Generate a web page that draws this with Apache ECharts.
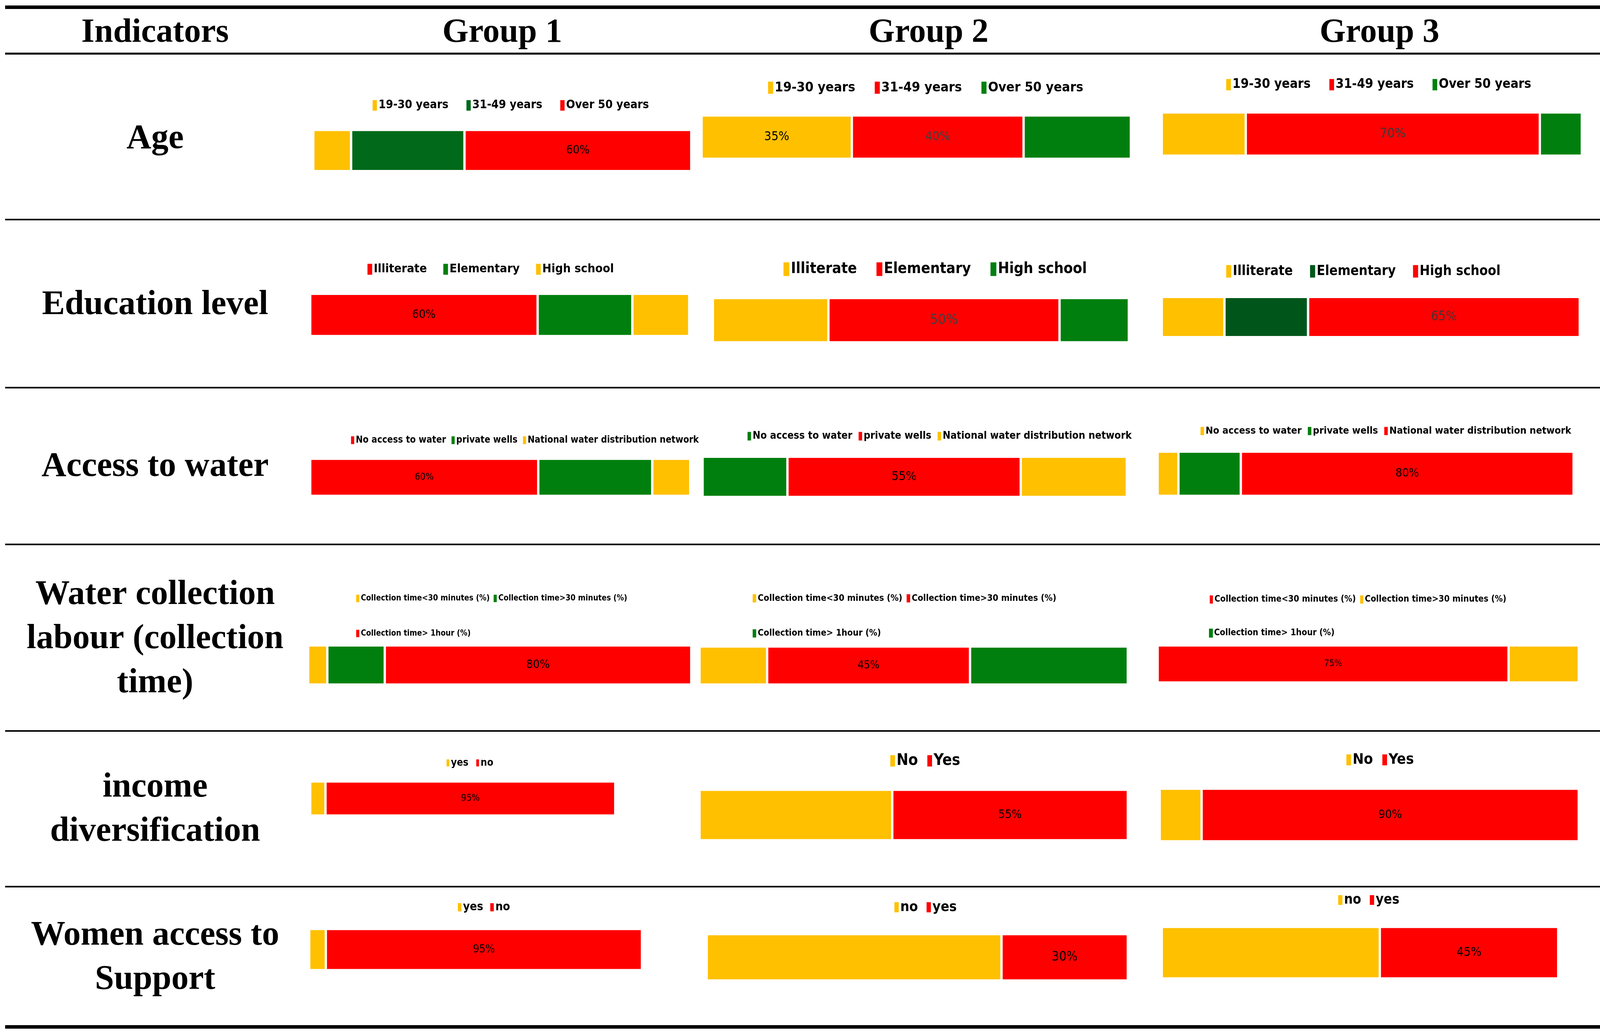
<!DOCTYPE html>
<html><head><meta charset="utf-8">
<script src="https://cdn.jsdelivr.net/npm/echarts@6/dist/echarts.min.js"></script>
<style>html,body{margin:0;padding:0;background:#fff}#c{width:4110px;height:2639px}</style>
</head><body><div id="c"></div>
<script>
// ---------------- DATA ----------------
const groups = ['Group 1', 'Group 2', 'Group 3'];
const headerFirst = 'Indicators';
const indicators = ['Age', 'Education level', 'Access to water',
  'Water collection\nlabour (collection\ntime)', 'income\ndiversification', 'Women access to\nSupport'];

const ageNames = ['19-30 years', '31-49 years', 'Over 50 years'];
const ageValues = [[10, 30, 60], [35, 40, 25], [20, 70, 10]];

const eduNames = ['Illiterate', 'Elementary', 'High school'];
const eduValues = [[60, 25, 15], [25, 50, 15], [15, 20, 65]];

const waterNames = ['No access to water', 'private wells', 'National water distribution network'];
const waterValues = [[60, 30, 10], [20, 55, 25], [5, 15, 80]];

const timeNames = ['Collection time<30 minutes (%)', 'Collection time>30 minutes (%)', 'Collection time> 1hour (%)'];
const timeValues = [[5, 15, 80], [15, 45, 35], [75, 15, 0]];

const incomeNames = [['yes', 'no'], ['No', 'Yes'], ['No', 'Yes']];
const incomeValues = [[5, 95], [45, 55], [10, 90]];

const supportNames = [['yes', 'no'], ['no', 'yes'], ['no', 'yes']];
const supportValues = [[5, 95], [70, 30], [55, 45]];

// segments that carry a percentage label (index into each cell)
const ageLabeled = [[2], [0, 1], [1]];
const eduLabeled = [[0], [1], [2]];
const waterLabeled = [[0], [1], [2]];
const timeLabeled = [[2], [1], [0]];
const incomeLabeled = [[1], [1], [1]];
const supportLabeled = [[1], [1], [1]];

// ---------------- STYLE ----------------
const Y = '#FFC000', R = '#FF0000', G = '#007F0E', DG = '#006A1A', DDG = '#00561A';
const ageColors = [[Y, DG, R], [Y, R, G], [Y, R, G]];
const eduColors = [[R, G, Y], [Y, R, G], [Y, DDG, R]];
const waterColors = [[R, G, Y], [G, R, Y], [Y, G, R]];
const timeColors = [[Y, G, R], [Y, R, G], [R, Y, G]];
const incomeColors = [[Y, R], [Y, R], [Y, R]];
const supportColors = [[Y, R], [Y, R], [Y, R]];

const NARROW = "'Liberation Sans Narrow', 'Arial Narrow', 'DejaVu Sans Condensed', sans-serif";
const SERIF = "'Liberation Serif', 'DejaVu Serif', serif";
const SX = 4110 / 1563, SY = 2639 / 1000;

// bar boxes in reference display units [x0, x1, y0, y1]
const barBox = [
  [[305, 673, 126, 166], [683, 1101, 112, 154], [1131, 1540, 109, 151]],
  [[302, 671, 285, 326], [694, 1099, 289, 332], [1131, 1538, 288, 327]],
  [[302, 672, 445, 481], [684, 1097, 443, 482], [1127, 1532, 438, 481]],
  [[300, 673, 626, 664], [681, 1098, 627, 664], [1127, 1537, 626, 662]],
  [[302, 599, 758, 791], [681, 1098, 766, 815], [1129, 1537, 765, 816]],
  [[301, 625, 901, 941], [688, 1098, 906, 951], [1131, 1517, 899, 949]]
];
// legends: [left (display), centerY (display), fontSize (px), itemGap (px), iconSize ref (px), second line centerY]
const legendAt = [
  [[362, 102, 30, 44, 37], [747, 85, 34.5, 48, 42], [1193, 82, 33.5, 46, 40]],
  [[357, 261, 31, 40, 38], [762, 261, 38.5, 48, 47], [1193, 263, 35, 42, 43]],
  [[341, 427, 24, 12, 28], [727, 423, 26.5, 14, 31], [1168, 418, 25.5, 14, 30]],
  [[346, 580, 20.5, 8, 26.5, 614], [732, 580, 23, 9, 29.5, 614], [1177, 581, 22.5, 9, 29, 614]],
  [[434, 740, 26, 18, 26], [866, 738, 40, 22, 40], [1310, 737, 38, 22, 38]],
  [[445, 880, 30, 16, 30], [870, 880, 36, 20, 36], [1302, 873, 35, 20, 35]]
];
const labelFont = [
  [30, 32, 33], [30, 36, 33], [24, 32, 30], [30, 28, 23], [24, 30, 30], [28, 33, 32]
];
const labelColor = [
  [['#000'], ['#000', '#404040'], ['#3a3a3a']],
  [['#000'], ['#404040'], ['#4a3030']],
  [['#000'], ['#000'], ['#000']],
  [['#000'], ['#000'], ['#000']],
  [['#000'], ['#000'], ['#000']],
  [['#000'], ['#000'], ['#000']]
];

// ---------------- BUILD ----------------
const rowsData = [
  {names: [ageNames, ageNames, ageNames], values: ageValues, colors: ageColors, labeled: ageLabeled},
  {names: [eduNames, eduNames, eduNames], values: eduValues, colors: eduColors, labeled: eduLabeled},
  {names: [waterNames, waterNames, waterNames], values: waterValues, colors: waterColors, labeled: waterLabeled},
  {names: [timeNames, timeNames, timeNames], values: timeValues, colors: timeColors, labeled: timeLabeled, split: 2},
  {names: incomeNames, values: incomeValues, colors: incomeColors, labeled: incomeLabeled},
  {names: supportNames, values: supportValues, colors: supportColors, labeled: supportLabeled}
];

const option = {animation: false, backgroundColor: '#fff', grid: [], xAxis: [], yAxis: [], series: [], legend: [], graphic: []};

rowsData.forEach((row, r) => {
  for (let g = 0; g < 3; g++) {
    const k = r * 3 + g;
    const names = row.names[g], vals = row.values[g], cols = row.colors[g];
    const total = vals.reduce((a, b) => a + b, 0);
    const [x0, x1, y0, y1] = barBox[r][g];
    option.grid.push({left: x0 * SX, top: y0 * SY, width: (x1 - x0) * SX, height: (y1 - y0) * SY, containLabel: false});
    option.xAxis.push({gridIndex: k, type: 'value', min: 0, max: total, show: false});
    option.yAxis.push({gridIndex: k, type: 'category', data: ['c' + k], show: false});
    const sNames = [];
    names.forEach((n, i) => {
      const li = row.labeled[g].indexOf(i);
      const sName = k + '|' + n;
      sNames.push(sName);
      option.series.push({
        type: 'bar', name: sName, xAxisIndex: k, yAxisIndex: k, stack: 's' + k,
        barWidth: '100%', data: [vals[i]],
        itemStyle: {color: cols[i], borderColor: '#fff', borderWidth: vals[i] ? 3 : 0},
        emphasis: {disabled: true},
        label: {
          show: li >= 0, position: 'inside', formatter: '{c}%',
          fontFamily: NARROW, fontSize: labelFont[r][g],
          color: li >= 0 ? labelColor[r][g][li] : '#000'
        }
      });
    });
    const [lx, lcy, lf, lgap, isz, lcy2] = legendAt[r][g];
    const mk = (data, cy) => ({
      left: lx * SX, top: cy * SY - Math.max(lf, isz * 0.78) / 2, width: 2400, padding: 0, itemGap: lgap,
      itemWidth: Math.round(isz * 0.36), itemHeight: Math.round(isz * 0.78), icon: 'rect',
      selectedMode: false, data: data,
      formatter: s => s.split('|')[1],
      textStyle: {fontFamily: NARROW, fontWeight: 'bold', fontSize: lf, lineHeight: lf, color: '#000', padding: [0, 0, 0, -2]}
    });
    if (row.split) {
      option.legend.push(mk(sNames.slice(0, row.split), lcy));
      option.legend.push(mk(sNames.slice(row.split), lcy2));
    } else {
      option.legend.push(mk(sNames, lcy));
    }
  }
});

// table rules
const ruleYs = [[7, 9], [52, 5], [213, 4], [376, 4], [528, 4], [709, 4], [860, 4], [996, 9]];
ruleYs.forEach(([y, w]) => option.graphic.push({
  type: 'line', silent: true,
  shape: {x1: 5 * SX, y1: y * SY, x2: 1558 * SX, y2: y * SY},
  style: {stroke: '#000', lineWidth: w}
}));
// header texts
const headX = [151, 489, 904, 1343];
[headerFirst].concat(groups).forEach((t, i) => option.graphic.push({
  type: 'text', silent: true, x: headX[i] * SX, y: 32 * SY,
  style: {text: t, align: 'center', verticalAlign: 'middle', fontFamily: SERIF, fontWeight: 'bold', fontSize: 86, fill: '#000'}
}));
// row labels
const rowCY = [135, 296, 453, 620, 785.5, 929];
indicators.forEach((t, i) => option.graphic.push({
  type: 'text', silent: true, x: 151 * SX, y: rowCY[i] * SY,
  style: {text: t, align: 'center', verticalAlign: 'middle', fontFamily: SERIF, fontWeight: 'bold', fontSize: 88, lineHeight: 113, fill: '#000'}
}));

const chart = echarts.init(document.getElementById('c'), null, {renderer: 'canvas'});
chart.setOption(option);
</script></body></html>
